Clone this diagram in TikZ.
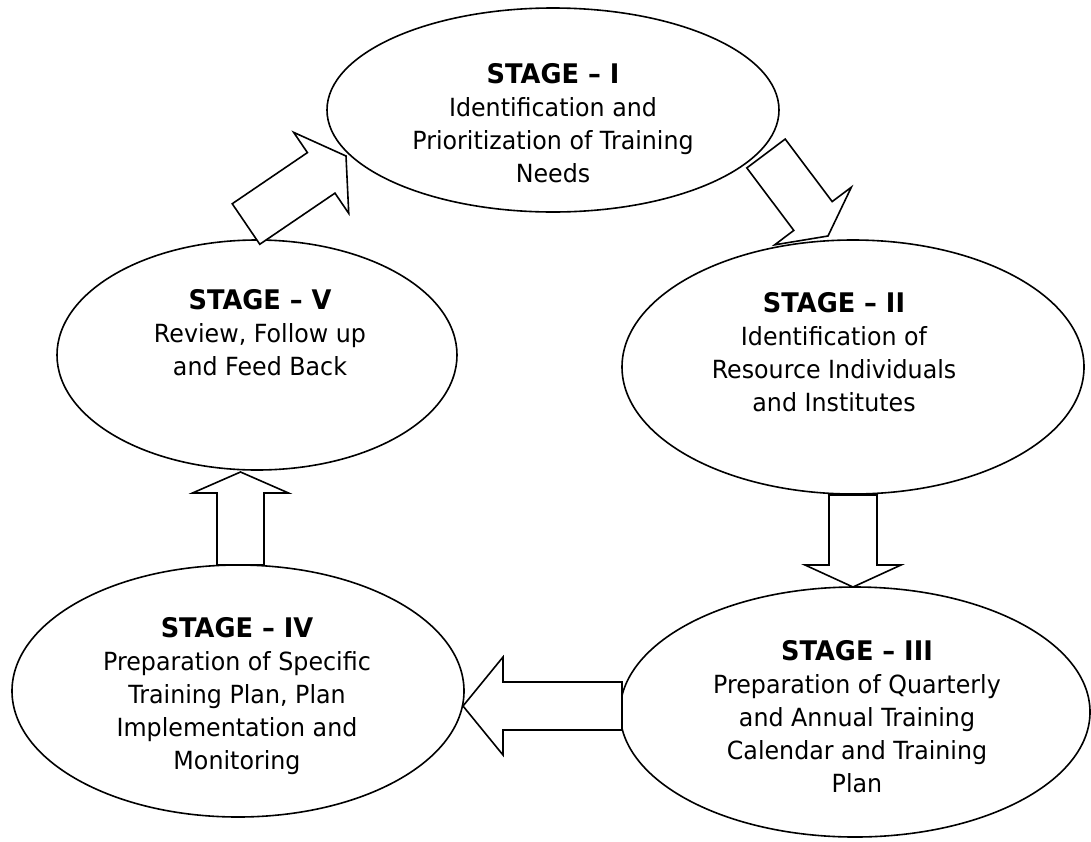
\documentclass[tikz,border=0pt]{standalone}
\usepackage{fontspec}
\setmainfont{DejaVu Sans}[FakeStretch=0.95]
\usetikzlibrary{shapes.geometric,calc}
\tikzset{
  stage/.style={ellipse, draw=black, line width=1.6pt, fill=white, inner sep=0pt},
  stagetext/.style={align=center, font=\fontsize{25}{33}\selectfont, inner sep=0pt},
  blockarr/.style={draw=black, line width=1.6pt, fill=white, line join=miter},
}
\newcommand\stagetitle[1]{{\fontsize{27}{33}\selectfont\bfseries #1}}
\newcommand\blockarrow[5]{%
  \coordinate (hb) at ($(#2)!#5!(#1)$);
  \draw[blockarr] ($(#1)!#3!90:(#2)$) -- ($(hb)!#3!-90:(#1)$) -- ($(hb)!#4!-90:(#1)$) -- (#2)
    -- ($(hb)!#4!90:(#1)$) -- ($(hb)!#3!90:(#1)$) -- ($(#1)!#3!-90:(#2)$) -- cycle;}
\begin{document}
\begin{tikzpicture}[x=1pt,y=-1pt]
\useasboundingbox (0,0) rectangle (1091,841);
% ellipses
\node[stage, minimum width=452pt, minimum height=204pt] (e1) at (553,110) {};
\node[stage, minimum width=400pt, minimum height=230pt] (e5) at (257,355) {};
\node[stage, minimum width=462pt, minimum height=254pt] (e2) at (853,367) {};
\node[stage, minimum width=470pt, minimum height=250pt] (e3) at (855,712) {};
\node[stage, minimum width=452pt, minimum height=252pt] (e4) at (238,691) {};
% arrow end points
\coordinate (a1t) at (246,224); \coordinate (a1h) at (346,156);
\coordinate (a2t) at (766,153.5); \coordinate (a2h) at (828,236);
\coordinate (a3t) at (853,495); \coordinate (a3h) at (853,587);
\coordinate (a4t) at (622,706); \coordinate (a4h) at (463,706);
\coordinate (a5t) at (240.5,565); \coordinate (a5h) at (240.5,472);
\blockarrow{a1t}{a1h}{24.5pt}{49pt}{30pt}
\blockarrow{a2t}{a2h}{24pt}{48pt}{25pt}
\blockarrow{a3t}{a3h}{24pt}{48pt}{22pt}
\blockarrow{a4t}{a4h}{24pt}{49pt}{40pt}
\blockarrow{a5t}{a5h}{23.5pt}{48pt}{21pt}
% texts
\node[stagetext] (t1) at (553,123) {\stagetitle{STAGE – I}\\Identification and\\Prioritization of Training\\Needs};
\node[stagetext] (t2) at (834,352) {\stagetitle{STAGE – II}\\Identification of\\Resource Individuals\\and Institutes};
\node[stagetext] (t3) at (857,717) {\stagetitle{STAGE – III}\\Preparation of Quarterly\\and Annual Training\\Calendar and Training\\Plan};
\node[stagetext] (t4) at (237,696) {\stagetitle{STAGE – IV}\\Preparation of Specific\\Training Plan, Plan\\Implementation and\\Monitoring};
\node[stagetext] (t5) at (260,333) {\stagetitle{STAGE – V}\\Review, Follow up\\and Feed Back};
\end{tikzpicture}
\end{document}
